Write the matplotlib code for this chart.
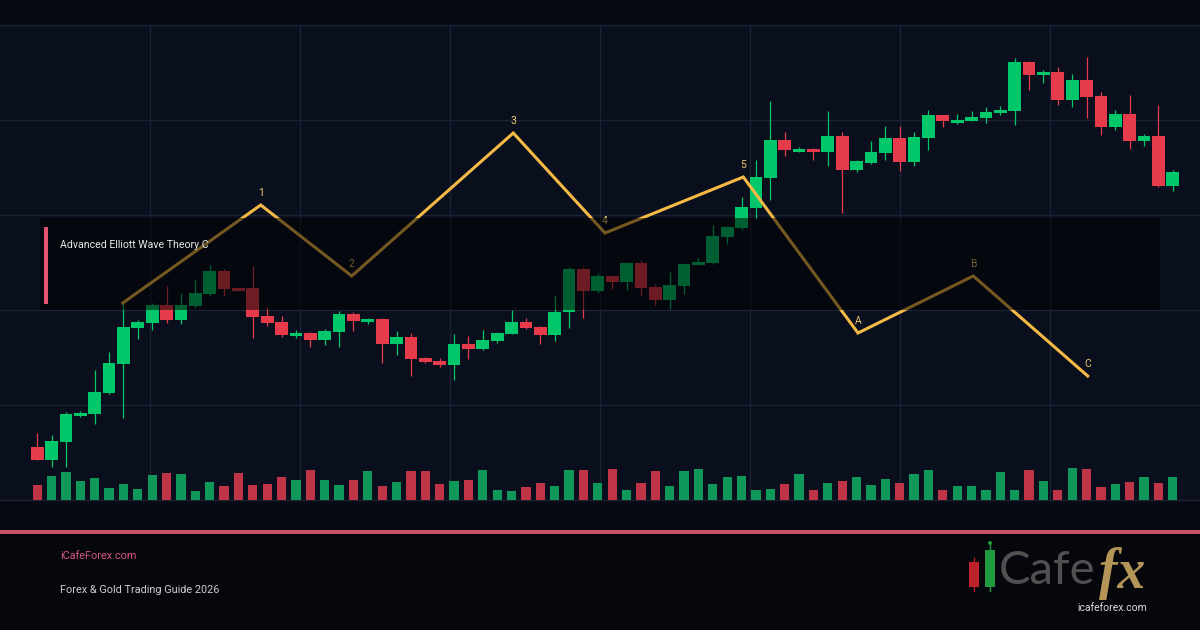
import matplotlib
matplotlib.use("Agg")
import matplotlib.pyplot as plt
from matplotlib.patches import Rectangle, Circle
import numpy as np

# ---------------- data ----------------
opens = [2153, 2140, 2158, 2184, 2186, 2207, 2236, 2272, 2277, 2295,
         2280, 2294, 2306, 2329, 2312, 2312, 2284, 2278, 2264, 2267,
         2260, 2268, 2286, 2278, 2281, 2256, 2263, 2242, 2239, 2235,
         2256, 2251, 2259, 2266, 2278, 2273, 2265, 2288, 2331, 2309,
         2324, 2318, 2337, 2313, 2300, 2314, 2335, 2337, 2363, 2372,
         2392, 2422, 2460, 2448, 2451, 2448, 2464, 2430, 2437, 2447,
         2462, 2438, 2462, 2485, 2477, 2479, 2482, 2487, 2489, 2538,
         2525, 2528, 2500, 2520, 2504, 2473, 2486, 2459, 2464, 2414]
highs = [2167, 2165, 2188, 2189, 2230, 2248, 2297, 2280, 2297, 2314,
         2307, 2320, 2335, 2331, 2313, 2334, 2293, 2284, 2270, 2268,
         2271, 2289, 2288, 2282, 2282, 2269, 2267, 2243, 2242, 2266,
         2264, 2270, 2268, 2290, 2282, 2274, 2305, 2333, 2333, 2327,
         2324, 2338, 2340, 2316, 2328, 2336, 2342, 2375, 2374, 2403,
         2440, 2499, 2468, 2453, 2452, 2489, 2468, 2440, 2459, 2474,
         2474, 2468, 2490, 2485, 2486, 2489, 2493, 2494, 2542, 2539,
         2530, 2533, 2526, 2543, 2508, 2490, 2505, 2466, 2495, 2430]
lows = [2140, 2133, 2133, 2183, 2176, 2206, 2182, 2261, 2270, 2277,
        2276, 2292, 2304, 2304, 2309, 2262, 2274, 2263, 2262, 2253,
        2255, 2253, 2269, 2276, 2237, 2245, 2224, 2237, 2233, 2220,
        2241, 2250, 2257, 2266, 2271, 2256, 2259, 2272, 2282, 2307,
        2311, 2310, 2304, 2295, 2291, 2306, 2335, 2336, 2356, 2370,
        2381, 2400, 2444, 2448, 2440, 2434, 2387, 2428, 2436, 2440,
        2429, 2434, 2450, 2473, 2476, 2479, 2477, 2485, 2475, 2510,
        2517, 2495, 2493, 2482, 2465, 2470, 2451, 2454, 2413, 2409]
closes = [2140, 2159, 2186, 2187, 2208, 2237, 2273, 2278, 2295, 2280,
          2295, 2307, 2329, 2311, 2309, 2283, 2277, 2265, 2267, 2260,
          2269, 2286, 2279, 2281, 2256, 2263, 2241, 2238, 2235, 2256,
          2251, 2260, 2267, 2278, 2272, 2265, 2288, 2331, 2309, 2324,
          2318, 2337, 2312, 2300, 2315, 2336, 2338, 2364, 2373, 2393,
          2423, 2460, 2450, 2451, 2448, 2464, 2430, 2439, 2448, 2462,
          2438, 2463, 2485, 2479, 2480, 2483, 2488, 2490, 2538, 2525,
          2528, 2500, 2520, 2503, 2473, 2486, 2459, 2464, 2414, 2428]
volumes = [1500, 2400, 2800, 1900, 2200, 1200, 1600, 1100, 2500, 2700,
           2600, 900, 1800, 1400, 2700, 1500, 1600, 2300, 2000, 3000,
           2000, 1500, 2000, 2900, 1400, 1800, 2900, 2900, 1600, 1900,
           2000, 3000, 1000, 900, 1300, 1700, 1400, 3000, 3000, 1700,
           3100, 1000, 1700, 2900, 1400, 2900, 3100, 1600, 2300, 2400,
           1000, 1100, 1600, 2600, 1000, 1700, 1900, 2300, 1500, 2100,
           1700, 2600, 3000, 1000, 1400, 1400, 1000, 2800, 1000, 3000,
           1900, 1000, 3200, 3100, 1300, 1600, 1800, 2300, 1700, 2300]

wave_labels = ["", "1", "2", "3", "4", "5", "A", "B", "C"]
wave_x = [5.95, 15.55, 21.88, 33.12, 39.5, 49.12, 57.1, 65.12, 73.08]
wave_price = [2297, 2395, 2324, 2467, 2367, 2423, 2267, 2324, 2224]

title = "Advanced Elliott Wave Theory C"
site = "iCafeForex.com"
subtitle = "Forex & Gold Trading Guide 2026"

# ---------------- styling ----------------
GREEN, RED = "#00c86a", "#e53b4b"
VGREEN, VRED = "#10985a", "#bf3447"
GOLD = "#f5b945"
GRID = "#1c2233"
FONT = ["Roboto", "DejaVu Sans"]

W, H = 1200, 630
X0, STEP = 37.1875, 14.375   # pixel layout of the candle slots

fig = plt.figure(figsize=(12, 6.3), dpi=100, facecolor="#070a13")

ax = fig.add_axes([0, 130 / H, 1, 475 / H])
ax.set_facecolor("#0a0f1d")
ax.set_xlim(-X0 / STEP, (W - X0) / STEP)
ax.set_ylim(2100, 2575)
ax.set_yticks([2100 + 95 * k for k in range(6)])
ax.set_xticks([(150 * k - X0) / STEP for k in range(1, 8)])
ax.grid(True, color=GRID, lw=1.0)
ax.set_axisbelow(True)
ax.tick_params(length=0, labelbottom=False, labelleft=False)
for s in ax.spines.values():
    s.set_visible(False)
for yv in (2100, 2575):
    ax.axhline(yv, color=GRID, lw=1.0, clip_on=False, zorder=0.5)

o = np.array(opens, float)
c = np.array(closes, float)
hi = np.array(highs, float)
lo = np.array(lows, float)
idx = np.arange(len(o))
up = c >= o
cols = np.where(up, GREEN, RED)

ax.vlines(idx, lo, hi, colors=cols, lw=0.9, zorder=2)
ax.bar(idx, np.maximum(np.abs(c - o), 2.5), bottom=np.minimum(o, c),
       width=0.88, color=cols, zorder=3, linewidth=0)

vax = ax.twinx()
vax.set_ylim(0, 47500)
vax.bar(idx, volumes, width=0.65, color=np.where(up, VGREEN, VRED), linewidth=0)
vax.axis("off")

ax.plot(wave_x, wave_price, color=GOLD, lw=2.2, zorder=4, solid_joinstyle="miter")
for x, p, lab in zip(wave_x, wave_price, wave_labels):
    if lab:
        ax.annotate(lab, (x, p), xytext=(0, 8.8), textcoords="offset points",
                    ha="center", va="center", fontsize=7.5, color="#f2c76e",
                    family=FONT, zorder=5)

# ---------------- overlay (pixel coordinates) ----------------
ov = fig.add_axes([0, 0, 1, 1], zorder=10)
ov.set_xlim(0, W)
ov.set_ylim(H, 0)
ov.axis("off")
ov.patch.set_alpha(0)

ov.add_patch(Rectangle((40, 218), 1120, 92, facecolor="black", alpha=0.52, lw=0))
ov.add_patch(Rectangle((44, 227), 3.5, 77, facecolor="#e0576f", lw=0))
ov.text(60, 245, title, fontsize=7.6, color="#e8e8e8", va="center", ha="left", family=FONT)

ov.add_patch(Rectangle((0, 533), W, 97, facecolor="#05070c", lw=0))
ov.add_patch(Rectangle((0, 530), W, 3.5, facecolor="#c9506b", lw=0))
ov.text(60, 556, site, fontsize=7.8, color="#d8557e", va="center", ha="left", family=FONT)
ov.text(60, 590, subtitle, fontsize=7.8, color="#cfcfcf", va="center", ha="left", family=FONT)

# logo
ov.plot([974, 974], [558, 591], color="#b51f2a", lw=1)
ov.add_patch(Rectangle((969, 562), 10, 25, facecolor="#c0222c", lw=0))
ov.plot([990, 990], [545, 591], color="#1f9a3c", lw=1)
ov.add_patch(Rectangle((985, 550), 10, 37, facecolor="#1f9a3c", lw=0))
ov.add_patch(Circle((990, 543), 2, facecolor="#1f9a3c", lw=0))
ov.text(999, 571, "Cafe", fontsize=34, color="#505050", va="center", ha="left",
        family=["Lato", "DejaVu Sans"], fontweight="normal")
ov.text(1099, 574, "fx", fontsize=40, color="#b59457", va="center", ha="left",
        family=["Liberation Serif", "DejaVu Serif"], style="italic", fontweight="bold")
ov.text(1112, 608, "icafeforex.com", fontsize=7.5, color="#dddddd", va="center", ha="center",
        family=FONT)

fig.savefig("out.png", dpi=100, facecolor=fig.get_facecolor())
